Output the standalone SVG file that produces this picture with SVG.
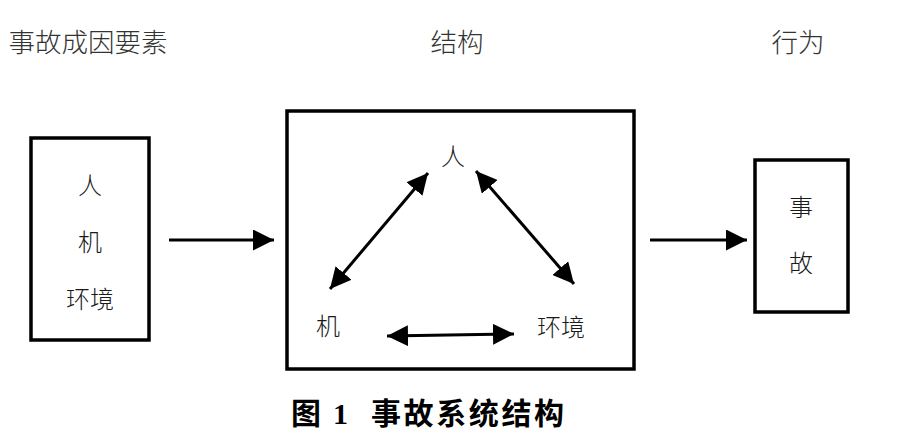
<svg xmlns="http://www.w3.org/2000/svg" width="912" height="439" viewBox="0 0 912 439">
<style>
.box{fill:#fff;stroke:#000;stroke-width:3.5}
.lbl{font-family:"Noto Sans CJK SC","Noto Sans",sans-serif;font-weight:300;fill:#1a1a1a;text-anchor:middle}
.head{font-size:26.5px;fill:#333}
.in{font-size:24px}
.conn{stroke:#000;stroke-width:3;fill:none}
.cap{font-family:"Liberation Serif","Noto Sans CJK SC",serif;font-weight:bold;font-size:30px;fill:#000}
</style>
<defs>
<marker id="ah" viewBox="0 0 10 10" refX="10" refY="5" markerWidth="21" markerHeight="21" markerUnits="userSpaceOnUse" orient="auto-start-reverse">
<path d="M0,0 L10,5 L0,10 z" fill="#000"/>
</marker>
</defs>
<rect width="912" height="439" fill="#fff"/>
<g id="headers">
<text class="lbl head" x="88" y="52">事故成因要素</text>
<text class="lbl head" x="457" y="52">结构</text>
<text class="lbl head" x="798" y="52">行为</text>
</g>
<g id="factors">
<rect class="box" x="31" y="138" width="118" height="202"/>
<text class="lbl in" x="90" y="194">人</text>
<text class="lbl in" x="90" y="251">机</text>
<text class="lbl in" x="90" y="308">环境</text>
</g>
<g id="structure">
<rect class="box" x="287" y="111" width="347" height="258"/>
<text class="lbl in" x="453" y="165">人</text>
<text class="lbl in" x="328" y="335">机</text>
<text class="lbl in" x="561" y="336">环境</text>
</g>
<g id="accident">
<rect class="box" x="755" y="160" width="93" height="152"/>
<text class="lbl in" x="801" y="216">事</text>
<text class="lbl in" x="801" y="272">故</text>
</g>
<g id="connectors">
<line class="conn" x1="169" y1="240" x2="274" y2="240" marker-end="url(#ah)"/>
<line class="conn" x1="650" y1="240" x2="747" y2="240" marker-end="url(#ah)"/>
<line class="conn" x1="428" y1="173" x2="330" y2="289" marker-start="url(#ah)" marker-end="url(#ah)"/>
<line class="conn" x1="476" y1="171" x2="574" y2="284" marker-start="url(#ah)" marker-end="url(#ah)"/>
<line class="conn" x1="387" y1="336" x2="514" y2="334" marker-start="url(#ah)" marker-end="url(#ah)"/>
</g>
<g id="caption">
<text class="cap" x="291" y="424">图</text>
<text class="cap" x="333" y="424">1</text>
<text class="cap" x="371" y="424" letter-spacing="2.6">事故系统结构</text>
</g>
</svg>
